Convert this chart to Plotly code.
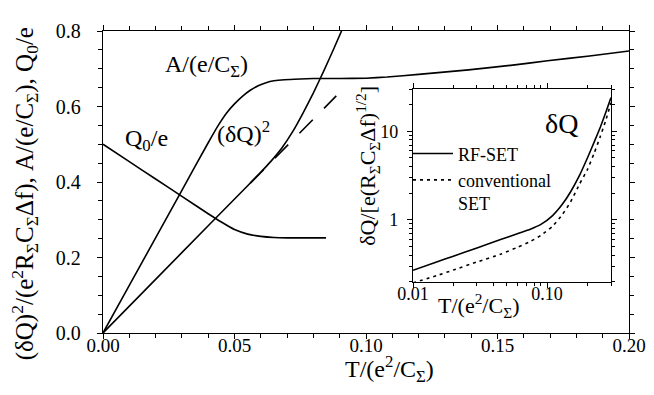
import plotly.graph_objects as go
import numpy as np

# ---- main panel data ----
A_T = [0, 0.01, 0.02, 0.03, 0.04, 0.044, 0.047, 0.05, 0.053, 0.056, 0.059, 0.062, 0.065, 0.069,
       0.075, 0.08, 0.09, 0.10, 0.108, 0.12, 0.139, 0.155, 0.169, 0.185, 0.20]
A_val = [0, 0.126, 0.252, 0.378, 0.504, 0.552, 0.583, 0.607, 0.627, 0.643, 0.655, 0.663, 0.668, 0.671,
         0.673, 0.674, 0.674, 0.675, 0.678, 0.685, 0.697, 0.709, 0.721, 0.734, 0.747]

Q0_T = [0, 0.01, 0.02, 0.03, 0.04, 0.045, 0.05, 0.055, 0.06, 0.065, 0.07, 0.0848]
Q0_val = [0.5, 0.454, 0.408, 0.362, 0.316, 0.294, 0.274, 0.262, 0.256, 0.253, 0.252, 0.252]

dQ2_T = [0, 0.02, 0.04, 0.055, 0.06, 0.064, 0.068, 0.072, 0.076, 0.08, 0.084, 0.088, 0.091]
dQ2_val = [0, 0.142, 0.284, 0.39, 0.426, 0.456, 0.49, 0.532, 0.582, 0.636, 0.695, 0.757, 0.805]

dQ2_lin_T = [0.056, 0.0887]
dQ2_lin_val = [0.397, 0.628]

# ---- inset data ----
ins_T = [0.01, 0.015, 0.02, 0.03, 0.045, 0.06, 0.075, 0.09, 0.11, 0.13, 0.15, 0.175, 0.2, 0.225,
         0.25, 0.275, 0.3]
rf_set = [0.27, 0.335, 0.39, 0.483, 0.60, 0.70, 0.786, 0.89, 1.12, 1.5, 2.08, 3.2, 5.0, 7.6,
          11.2, 16.5, 24]
conv_set = [0.195, 0.235, 0.272, 0.335, 0.41, 0.49, 0.57, 0.67, 0.85, 1.15, 1.6, 2.55, 3.7, 5.7,
            8.8, 13.5, 21]

x_ticks = [0, 0.05, 0.10, 0.15, 0.20]
x_ticktext = ["0.00", "0.05", "0.10", "0.15", "0.20"]
y_ticks = [0, 0.2, 0.4, 0.6, 0.8]
y_ticktext = ["0.0", "0.2", "0.4", "0.6", "0.8"]

FONT = "Liberation Serif, Times New Roman, Times, serif"
BLK = "black"
LW = 1.6

fig = go.Figure()
fig.add_trace(go.Scatter(x=A_T, y=A_val, mode="lines", line=dict(color=BLK, width=LW, shape="spline", smoothing=0.4),
                         showlegend=False))
fig.add_trace(go.Scatter(x=Q0_T, y=Q0_val, mode="lines", line=dict(color=BLK, width=LW, shape="spline", smoothing=0.4),
                         showlegend=False))
fig.add_trace(go.Scatter(x=dQ2_T, y=dQ2_val, mode="lines", line=dict(color=BLK, width=LW, shape="spline", smoothing=0.4),
                         showlegend=False))
fig.add_trace(go.Scatter(x=dQ2_lin_T, y=dQ2_lin_val, mode="lines",
                         line=dict(color=BLK, width=LW, dash="19px,16px"), showlegend=False))

fig.add_trace(go.Scatter(x=ins_T, y=rf_set, mode="lines", name="RF-SET", xaxis="x2", yaxis="y2",
                         line=dict(color=BLK, width=LW, shape="spline", smoothing=0.5)))
fig.add_trace(go.Scatter(x=ins_T, y=conv_set, mode="lines", name="conventional<br>SET", xaxis="x2", yaxis="y2",
                         line=dict(color=BLK, width=LW, dash="3px,4px", shape="spline", smoothing=0.5)))

axis_common = dict(showline=True, linecolor=BLK, linewidth=1.3, mirror="ticks", ticks="outside",
                   tickcolor=BLK, tickwidth=1.2, showgrid=False, zeroline=False, ticklen=5)

ix0, ix1 = (405 - 95) / 526, (603 - 95) / 526
iy0, iy1 = (325 - 273) / 307, (325 - 77) / 307

fig.update_layout(
    width=654, height=395,
    margin=dict(l=95, r=33, t=18, b=70),
    paper_bgcolor="white", plot_bgcolor="white",
    font=dict(family=FONT, color=BLK),
    xaxis=dict(range=[0, 0.2], tickvals=x_ticks, ticktext=x_ticktext,
               tickfont=dict(family=FONT, size=19, color=BLK), ticklabelstandoff=-10,
               minor=dict(dtick=0.01, ticklen=4, ticks="outside", tickcolor=BLK), **axis_common),
    yaxis=dict(range=[0, 0.8], tickvals=y_ticks, ticktext=y_ticktext,
               tickfont=dict(family=FONT, size=20, color=BLK), ticklabelstandoff=12,
               minor=dict(dtick=0.05, ticklen=4, ticks="outside", tickcolor=BLK), **axis_common),
    xaxis2=dict(type="log", range=[-2, np.log10(0.3)], domain=[ix0, ix1], anchor="y2",
                tickvals=[0.01, 0.1], ticktext=["0.01", "0.10"], ticklabelstandoff=-10,
                tickfont=dict(family=FONT, size=18, color=BLK),
                minor=dict(tickvals=[0.02, 0.03, 0.04, 0.05, 0.06, 0.07, 0.08, 0.09, 0.2, 0.3],
                           ticklen=3, ticks="outside", tickcolor=BLK), **axis_common),
    yaxis2=dict(type="log", range=[np.log10(0.2), np.log10(30)], domain=[iy0, iy1], anchor="x2",
                tickvals=[1, 10], ticktext=["1", "10"], ticklabelstandoff=5,
                tickfont=dict(family=FONT, size=18, color=BLK),
                minor=dict(tickvals=[0.2, 0.3, 0.4, 0.5, 0.6, 0.7, 0.8, 0.9, 2, 3, 4, 5, 6, 7, 8, 9, 20, 30],
                           ticklen=3, ticks="outside", tickcolor=BLK), **axis_common),
    legend=dict(x=(400 - 95) / 526, y=(325 - 124) / 307, xanchor="left", yanchor="top",
                bgcolor="rgba(0,0,0,0)", font=dict(family=FONT, size=18, color=BLK),
                valign="top", tracegroupgap=0, itemwidth=40),
    shapes=[dict(type="rect", xref="paper", yref="paper", x0=ix0, x1=ix1, y0=iy0, y1=iy1,
                 fillcolor="white", line=dict(width=0), layer="below")],
)

annots = [
    dict(text="T/(e<sup>2</sup>/C<sub>Σ</sub>)", x=(381 - 95) / 526, y=(325 - 362) / 307, xref="paper", yref="paper",
         font=dict(size=24)),
    dict(text="(δQ)<sup>2</sup>/(e<sup>2</sup>R<sub>Σ</sub>C<sub>Σ</sub>Δf), A/(e/C<sub>Σ</sub>), Q<sub>0</sub>/e",
         x=(17 - 95) / 526, y=(325 - 184) / 307, xref="paper", yref="paper", textangle=-90, font=dict(size=25)),
    dict(text="T/(e<sup>2</sup>/C<sub>Σ</sub>)", x=(470 - 95) / 526, y=(325 - 297) / 307, xref="paper", yref="paper",
         font=dict(size=22)),
    dict(text="δQ/[e(R<sub>Σ</sub>C<sub>Σ</sub>Δf)<sup>1/2</sup>]", x=(360 - 95) / 526, y=(325 - 155) / 307,
         xref="paper", yref="paper", textangle=-90, font=dict(size=22)),
    dict(text="A/(e/C<sub>Σ</sub>)", x=0.0395, y=0.708, xref="x", yref="y", font=dict(size=24)),
    dict(text="Q<sub>0</sub>/e", x=0.0165, y=0.51, xref="x", yref="y", font=dict(size=24)),
    dict(text="(δQ)<sup>2</sup>", x=0.0535, y=0.532, xref="x", yref="y", font=dict(size=24)),
    dict(text="δQ", x=np.log10(0.145) - 0.05, y=np.log10(9.9) + 0.09, xref="x2", yref="y2", font=dict(size=28)),
]
for a in annots:
    a.setdefault("showarrow", False)
    a["font"] = dict(family=FONT, color=BLK, **a["font"])
    a.setdefault("xanchor", "center")
    a.setdefault("yanchor", "middle")
fig.update_layout(annotations=annots)

fig.write_html("out.html")
